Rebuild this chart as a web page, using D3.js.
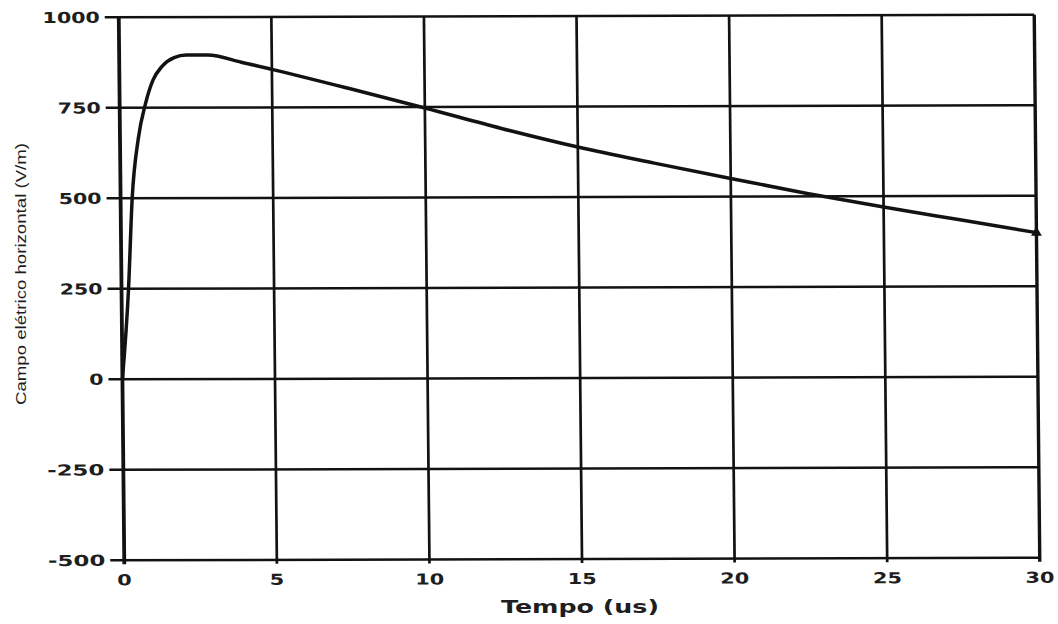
<!DOCTYPE html>
<html>
<head>
<meta charset="utf-8">
<script src="https://cdn.jsdelivr.net/npm/d3@7"></script>
<style>
  html, body { margin: 0; padding: 0; background: #fff; }
  svg { display: block; }
</style>
</head>
<body>
<svg id="chart" width="1058" height="624"></svg>
<script>
// Horizontal electric field vs time
const timeUs = [0, 0.23, 0.38, 0.6, 0.85, 1.1, 1.4, 1.8, 2.2, 2.9, 4, 5, 7.5, 10, 12.5, 15, 17.5, 20, 22.5, 25, 27.5, 30];
const fieldVm = [0, 250, 500, 665, 762, 826, 864, 888, 895, 895, 875, 855, 802, 747, 690, 638, 593, 550, 508, 470, 434, 398];
const xTicks = [0, 5, 10, 15, 20, 25, 30];
const yTicks = [-500, -250, 0, 250, 500, 750, 1000];
const xTitle = "Tempo (us)";
const yTitle = "Campo elétrico horizontal (V/m)";

(function draw() {
  const svg = d3.select("#chart");
  const ink = "#121212";

  const pLeft = 121.5, pRight = 1037, pTop = 16, pBottom = 559;
  const x = d3.scaleLinear().domain([0, 30]).range([pLeft, pRight]);
  const y = d3.scaleLinear().domain([-500, 1000]).range([pBottom, pTop]);

  const cx = (pLeft + pRight) / 2, cy = (pTop + pBottom) / 2;
  const plot = svg.append("g")
    .attr("transform", `translate(${cx},${cy}) skewX(0.58) skewY(-0.16) translate(${-cx},${-cy})`);

  // grid lines
  plot.append("g").selectAll("line").data(yTicks).join("line")
    .attr("x1", pLeft - 14).attr("x2", pRight)
    .attr("y1", d => y(d)).attr("y2", d => y(d))
    .attr("stroke", ink).attr("stroke-width", 2.5);
  plot.append("g").selectAll("line").data(xTicks).join("line")
    .attr("x1", d => x(d)).attr("x2", d => x(d))
    .attr("y1", pTop).attr("y2", pBottom + 4)
    .attr("stroke", ink).attr("stroke-width", d => (d === 0 ? 3.8 : d === 30 ? 3.4 : 2.7));

  // y tick labels
  const labelFont = "'DejaVu Sans', 'Liberation Sans', Arial, sans-serif";
  plot.append("g").selectAll("text").data(yTicks).join("text")
    .attr("x", pLeft - 19).attr("y", d => y(d) + 5.5)
    .attr("text-anchor", "end")
    .attr("font-family", labelFont).attr("font-weight", "bold").attr("font-size", 15)
    .attr("fill", "#1e1e1e")
    .attr("textLength", d => String(d).length * 14.3)
    .attr("lengthAdjust", "spacingAndGlyphs")
    .text(d => d);

  // x tick labels
  plot.append("g").selectAll("text").data(xTicks).join("text")
    .attr("x", d => x(d)).attr("y", pBottom + 25)
    .attr("text-anchor", "middle")
    .attr("font-family", labelFont).attr("font-weight", "bold").attr("font-size", 15)
    .attr("fill", "#1e1e1e")
    .attr("textLength", d => String(d).length * 14.5)
    .attr("lengthAdjust", "spacingAndGlyphs")
    .text(d => d);

  // field curve
  const pts = timeUs.map((t, i) => [t, fieldVm[i]]);
  const line = d3.line().x(d => x(d[0])).y(d => y(d[1])).curve(d3.curveMonotoneX);
  plot.append("path").datum(pts)
    .attr("d", line)
    .attr("fill", "none").attr("stroke", ink).attr("stroke-width", 3.5)
    .attr("stroke-linejoin", "round");

  // end marker
  const last = pts[pts.length - 1];
  plot.append("path")
    .attr("d", d3.symbol(d3.symbolTriangle, 50)())
    .attr("transform", `translate(${x(last[0])},${y(last[1])})`)
    .attr("fill", ink);

  // axis titles
  svg.append("text")
    .attr("x", 580).attr("y", 613)
    .attr("text-anchor", "middle")
    .attr("font-family", labelFont).attr("font-weight", "bold").attr("font-size", 17)
    .attr("fill", "#1e1e1e")
    .attr("textLength", 158).attr("lengthAdjust", "spacingAndGlyphs")
    .text(xTitle);

  svg.append("text")
    .attr("transform", "translate(26,274) rotate(-90)")
    .attr("text-anchor", "middle")
    .attr("font-family", "'Liberation Sans', Arial, sans-serif").attr("font-size", 15)
    .attr("fill", "#1e1e1e")
    .attr("textLength", 262).attr("lengthAdjust", "spacingAndGlyphs")
    .text(yTitle);
})();
</script>
</body>
</html>
